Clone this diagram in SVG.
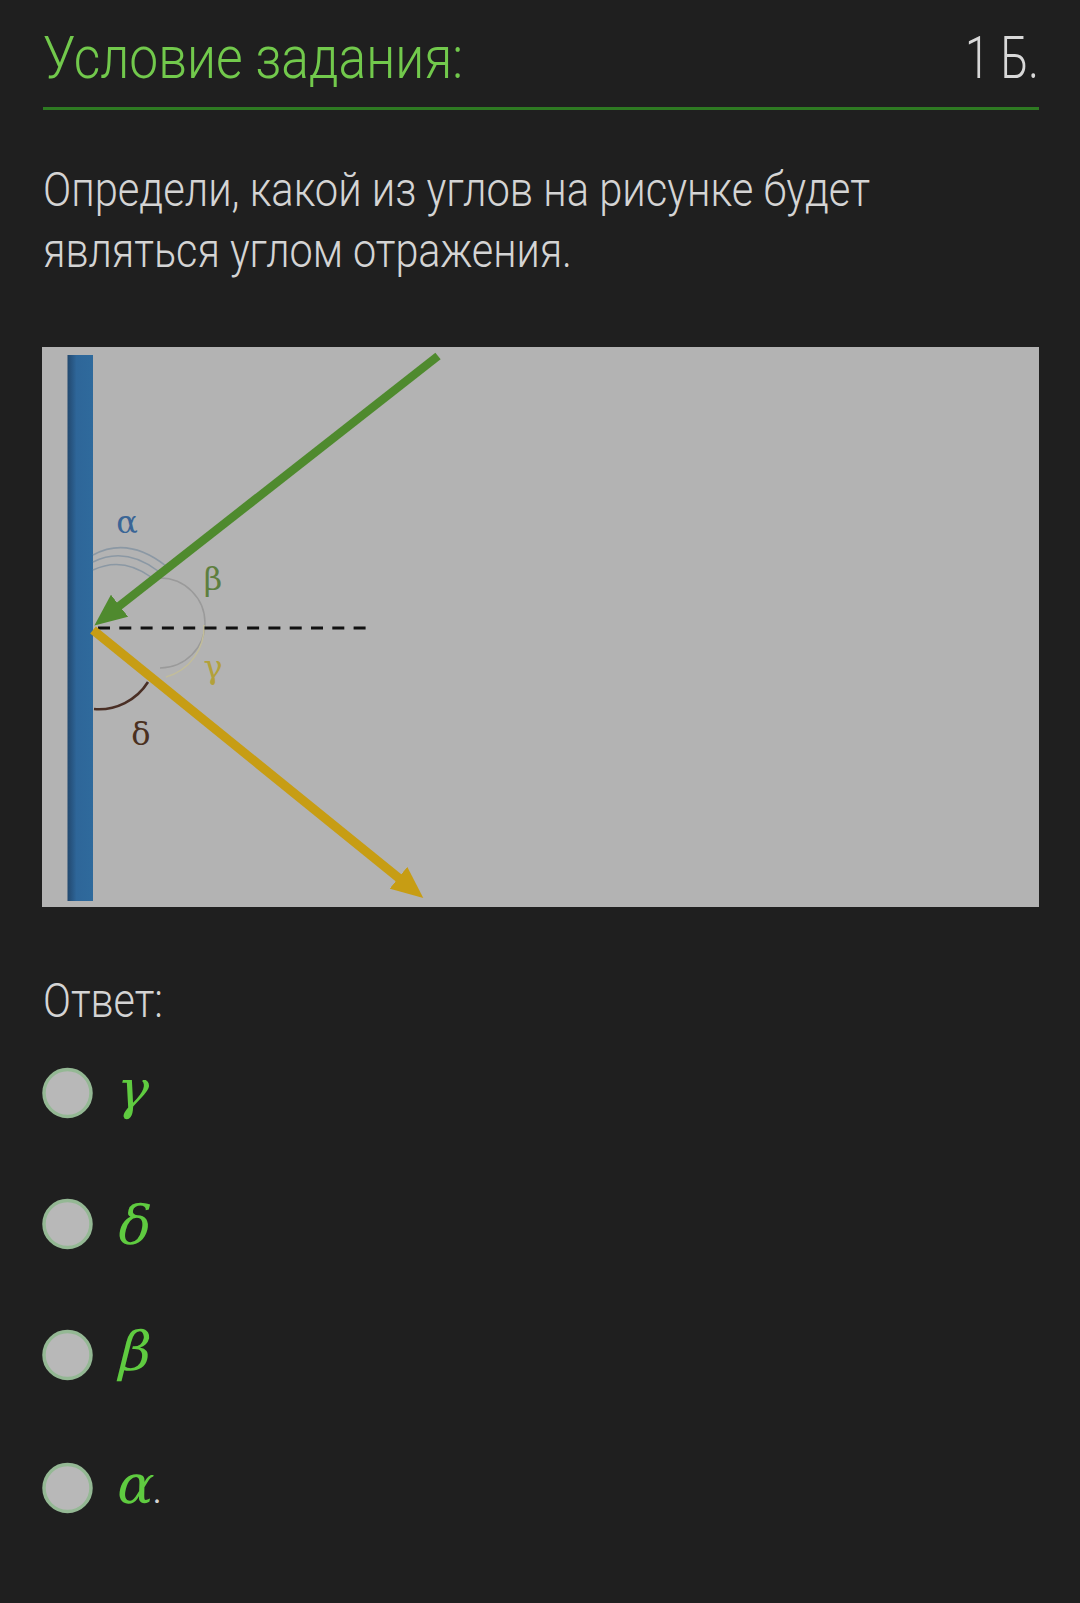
<svg xmlns="http://www.w3.org/2000/svg" width="1080" height="1603" viewBox="0 0 1080 1603">
  <defs>
    <style>
      .ui { font-family: Roboto, "Noto Sans", "Liberation Sans", sans-serif; font-weight: 300; }
      .title { font-size: 59px; fill: #72c94c; }
      .pts { font-size: 59px; fill: #d8d8d8; }
      .body { font-size: 48px; fill: #d4d4d4; }
      .lbl { font-family: "DejaVu Serif", "Liberation Serif", serif; font-size: 32px; text-anchor: middle; }
      .opt { font-family: "DejaVu Serif", "Liberation Serif", serif; font-size: 54px; fill: #5fcb40; }
      .radio { fill: #b8b8b8; stroke: #94b894; stroke-width: 3.5; }
      .thin { fill: none; stroke-width: 1.5; }
    </style>
    <linearGradient id="mirrorGrad" x1="0" y1="0" x2="1" y2="0">
      <stop offset="0" stop-color="#22486e"/>
      <stop offset="0.35" stop-color="#2e6699"/>
      <stop offset="1" stop-color="#2f6a9c"/>
    </linearGradient>
    <marker id="headGreen" markerUnits="userSpaceOnUse" viewBox="0 0 32 28" refX="2" refY="14" markerWidth="32" markerHeight="28" orient="auto">
      <path d="M0,0 L32,14 L0,28 Z" fill="#4f8a2e"/>
    </marker>
    <marker id="headYellow" markerUnits="userSpaceOnUse" viewBox="0 0 32 28" refX="2" refY="14" markerWidth="32" markerHeight="28" orient="auto">
      <path d="M0,0 L32,14 L0,28 Z" fill="#c79d14"/>
    </marker>
  </defs>

  <rect width="1080" height="1603" fill="#1f1f1f"/>

  <g id="header">
    <text class="ui title" x="43" y="78" textLength="420" lengthAdjust="spacingAndGlyphs">Условие задания:</text>
    <text class="ui pts" x="965" y="78" textLength="74" lengthAdjust="spacingAndGlyphs">1 Б.</text>
    <rect x="43" y="107" width="996" height="3" fill="#2e7a22"/>
  </g>

  <g id="question">
    <text class="ui body" x="43" y="206" textLength="827" lengthAdjust="spacingAndGlyphs">Определи, какой из углов на рисунке будет</text>
    <text class="ui body" x="43" y="267" textLength="529" lengthAdjust="spacingAndGlyphs">являться углом отражения.</text>
  </g>

  <g id="figure">
    <rect x="42" y="347" width="997" height="560" fill="#b3b3b3"/>
    <rect id="mirror" x="67.5" y="355" width="25.5" height="546" fill="url(#mirrorGrad)"/>

    <g id="angle-arcs">
      <path class="thin" stroke="#8b98a4" d="M93,555 Q128,536 166,566"/>
      <path class="thin" stroke="#8b98a4" d="M93,562 Q125,546 158,571"/>
      <path class="thin" stroke="#8b98a4" d="M93,570 Q122,556 151,577"/>
      <path class="thin" stroke="#9a9a9a" d="M160,578 A45,45 0 0 1 160,668"/>
      <path class="thin" stroke="#c2bd9a" d="M204,625 A52,52 0 0 1 166,677"/>
      <path fill="none" stroke="#4a2f25" stroke-width="2.6" d="M148,682 A58,58 0 0 1 94,709"/>
    </g>

    <g id="labels">
      <text class="lbl" x="127" y="533" fill="#3a6596">α</text>
      <text class="lbl" x="213" y="590" fill="#5e7f3e">β</text>
      <text class="lbl" x="213" y="678" fill="#b3a13a">γ</text>
      <text class="lbl" x="141" y="745" fill="#4a3020">δ</text>
    </g>
  </g>

  <g id="connectors">
    <line id="normal" x1="98" y1="628" x2="374" y2="628" stroke="#111" stroke-width="3" stroke-dasharray="12 9.3"/>
    <line id="incident-ray" x1="438" y1="356" x2="118" y2="607" stroke="#4f8a2e" stroke-width="8.5" marker-end="url(#headGreen)"/>
    <line id="reflected-ray" x1="93" y1="630" x2="400" y2="879" stroke="#c79d14" stroke-width="9" marker-end="url(#headYellow)"/>
  </g>

  <g id="answers">
    <text class="ui body" x="43" y="1017" textLength="120" lengthAdjust="spacingAndGlyphs">Ответ:</text>
    <g id="option-gamma">
      <circle class="radio" cx="67.5" cy="1093" r="23.5"/>
      <text class="opt" transform="translate(114,1108) skewX(-14)">γ</text>
    </g>
    <g id="option-delta">
      <circle class="radio" cx="67.5" cy="1224" r="23.5"/>
      <text class="opt" transform="translate(114,1244) skewX(-14)">δ</text>
    </g>
    <g id="option-beta">
      <circle class="radio" cx="67.5" cy="1355" r="23.5"/>
      <text class="opt" transform="translate(116,1370) skewX(-14)">β</text>
    </g>
    <g id="option-alpha">
      <circle class="radio" cx="67.5" cy="1488" r="23.5"/>
      <text class="opt" transform="translate(114,1503) skewX(-14)">α</text>
      <text class="ui" x="152" y="1503" font-size="44" fill="#d4d4d4">.</text>
    </g>
  </g>
</svg>
